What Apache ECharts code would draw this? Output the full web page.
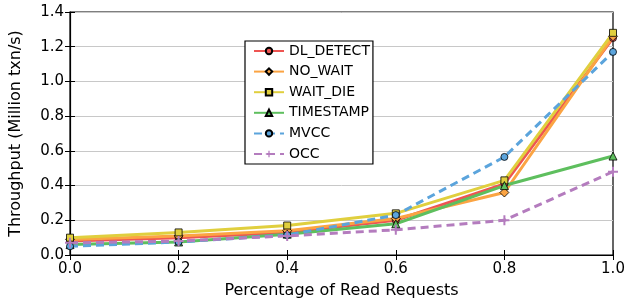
<!DOCTYPE html>
<html>
<head>
<meta charset="utf-8">
<script src="https://cdn.jsdelivr.net/npm/echarts@6/dist/echarts.min.js"></script>
<style>
html,body{margin:0;padding:0;background:#fff;}
#chart{width:629px;height:305px;}
</style>
</head>
<body>
<div id="chart"></div>
<script>
const readPct = [0.0, 0.2, 0.4, 0.6, 0.8, 1.0];
const dlDetect = [0.08, 0.10, 0.13, 0.20, 0.41, 1.25];
const noWait = [0.09, 0.11, 0.14, 0.21, 0.36, 1.26];
const waitDie = [0.10, 0.13, 0.17, 0.24, 0.43, 1.28];
const timestamp = [0.06, 0.075, 0.12, 0.18, 0.40, 0.57];
const mvcc = [0.05, 0.075, 0.115, 0.23, 0.565, 1.17];
const occ = [0.07, 0.08, 0.11, 0.145, 0.20, 0.48];

window.addEventListener("load", function () {
    let chart = echarts.init(document.getElementById("chart"));
    let font = "DejaVu Sans";

    function pts(arr) {
        return arr.map((v, i) => [readPct[i], v]);
    }
    function mk(name, arr, color, symbol, dashed, size) {
        return {
            name: name,
            type: "line",
            data: pts(arr),
            symbol: symbol,
            symbolSize: size || 7,
            showAllSymbol: true,
            lineStyle: {color: color, width: 3, type: dashed ? [8, 5] : "solid"},
            itemStyle: {color: color, borderColor: "#000", borderWidth: 0.8}
        };
    }

    let plus = "path://M4,0L6,0L6,4L10,4L10,6L6,6L6,10L4,10L4,6L0,6L0,4L4,4Z";
    let series = [
        mk("DL_DETECT", dlDetect, "#ee5552", "circle"),
        mk("NO_WAIT", noWait, "#fba443", "diamond", false, 9),
        mk("WAIT_DIE", waitDie, "#e0cf3e", "rect"),
        mk("TIMESTAMP", timestamp, "#5ebf5e", "triangle", false, 8),
        mk("MVCC", mvcc, "#5ba4dc", "circle", true),
        mk("OCC", occ, "#b47cbe", plus, true, 10)
    ];
    series[5].itemStyle.borderWidth = 0;

    let tickOnly = {
        axisLine: {show: false},
        axisTick: {inside: true, length: 5, lineStyle: {color: "#000"}},
        axisLabel: {show: false},
        splitLine: {show: false}
    };

    let option = {
        animation: false,
        backgroundColor: "#fff",
        textStyle: {fontFamily: font},
        grid: {left: 68, right: 16, top: 12, bottom: 50, show: true,
            borderColor: "#000", borderWidth: 1.2, backgroundColor: "transparent"},
        legend: {
            orient: "vertical",
            left: 245, top: 41,
            itemWidth: 30, itemHeight: 8, itemGap: 6.6,
            padding: [3, 3, 3, 8],
            borderColor: "#000", borderWidth: 1.2, borderRadius: 0,
            backgroundColor: "#fff",
            textStyle: {fontFamily: font, fontSize: 14, color: "#000"},
            data: series.map(s => s.name)
        },
        xAxis: [{
            type: "value", min: 0, max: 1, interval: 0.2,
            name: "Percentage of Read Requests",
            nameLocation: "middle", nameGap: 28,
            nameTextStyle: {fontFamily: font, fontSize: 16, color: "#000"},
            axisLine: {show: true, lineStyle: {color: "#000", width: 1.2}},
            axisTick: {inside: true, length: 5, lineStyle: {color: "#000"}},
            axisLabel: {fontFamily: font, fontSize: 15, color: "#000", margin: 7,
                formatter: v => v.toFixed(1)},
            splitLine: {show: false}
        }, Object.assign({type: "value", position: "top", min: 0, max: 1, interval: 0.2}, tickOnly)],
        yAxis: [{
            type: "value", min: 0, max: 1.4, interval: 0.2,
            name: "Throughput (Million txn/s)",
            nameLocation: "middle", nameGap: 46,
            nameTextStyle: {fontFamily: font, fontSize: 16, color: "#000"},
            axisLine: {show: true, lineStyle: {color: "#000", width: 1.2}},
            axisTick: {inside: true, length: 5, lineStyle: {color: "#000"}},
            axisLabel: {fontFamily: font, fontSize: 15, color: "#000", margin: 6,
                formatter: v => v.toFixed(1)},
            splitLine: {show: true, lineStyle: {color: "#c8c8c8", width: 1}}
        }, Object.assign({type: "value", position: "right", min: 0, max: 1.4, interval: 0.2}, tickOnly)],
        series: series
    };
    chart.setOption(option);
});
</script>
</body>
</html>
